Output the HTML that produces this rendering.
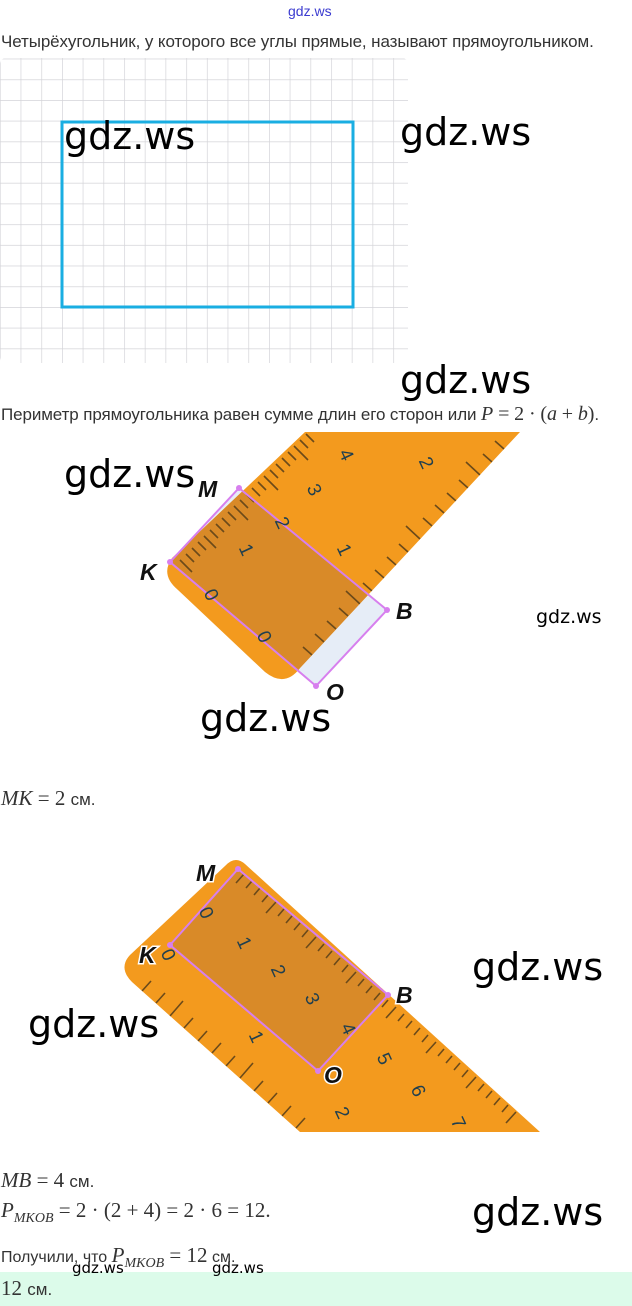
<!DOCTYPE html>
<html><head><meta charset="utf-8"><style>
body{margin:0;width:632px;height:1306px;background:#fff;position:relative;overflow:hidden;font-family:"Liberation Sans",sans-serif;}
.t{position:absolute;white-space:nowrap;color:#333;}
.w{position:absolute;font-family:"DejaVu Sans","Liberation Sans",sans-serif;color:#000;white-space:nowrap;}
.m{font-family:"Liberation Serif",serif;}
</style></head><body>
<div class="t" style="left:288px;top:3px;font-size:14px;color:#3b3bd0;">gdz.ws</div>
<div class="t" style="left:1px;top:32px;font-size:17px;letter-spacing:-0.1px;">Четырёхугольник, у которого все углы прямые, называют прямоугольником.</div>
<svg style="position:absolute;left:0;top:0" width="632" height="1306">
<defs>
<pattern id="g" x="-0.1" y="58.6" width="20.7" height="20.7" patternUnits="userSpaceOnUse">
<path d="M0 0H20.7M0 0V20.7" stroke="#d4d4d8" stroke-width="1.4" fill="none"/></pattern>
<clipPath id="r1"><path d="M172 558 L305 432 L520 432 L300 668 Q285 688 265 672 L178 590 Q160 575 172 558Z"/></clipPath>
<clipPath id="r2"><path d="M225 866 Q235 855 245 864 L540 1132 L300 1132 L132 982 Q118 968 130 955Z"/></clipPath>
</defs>
<rect x="0" y="58" width="408" height="305" rx="6" fill="url(#g)"/>
<rect x="62" y="122" width="291" height="185" fill="none" stroke="#1aaee2" stroke-width="3"/>
<!-- ruler 1 -->
<polygon points="239,488 387,610 316,686 170,562" fill="#e6edf7"/>
<path d="M172 558 L305 432 L520 432 L300 668 Q285 688 265 672 L178 590 Q160 575 172 558Z" fill="#f39a1e"/>
<g clip-path="url(#r1)">
<polygon points="239,488 387,610 316,686 170,562" fill="#d98a28"/>
<g stroke="#6b4a1a" stroke-width="1.6">
<path d="M180 560l12 12M186 554l8 8M192 548l8 8M198 542l8 8M204 536l12 12M210 530l8 8M216 524l8 8M222 518l8 8M228 512l8 8M234 506l14 14M240 500l8 8M246 494l8 8M252 488l8 8M258 482l8 8M264 476l14 14M270 470l8 8M276 464l8 8M282 458l8 8M288 452l8 8M294 446l14 14M300 440l8 8M306 434l8 8"/>
<path d="M312 655l-9 -8M324 642l-9 -8M336 629l-9 -8M348 616l-9 -8M360 604l-14 -13M372 591l-9 -8M384 578l-9 -8M396 565l-9 -8M408 552l-9 -8M420 539l-14 -13M432 526l-9 -8M444 513l-9 -8M456 501l-9 -8M468 488l-9 -8M480 475l-14 -13M492 462l-9 -8M504 449l-9 -8"/>
</g>
</g>
<polygon points="239,488 387,610 316,686 170,562" fill="none" stroke="#d77fee" stroke-width="2"/>
<g fill="#d77fee"><circle cx="239" cy="488" r="3"/><circle cx="170" cy="562" r="3"/><circle cx="387" cy="610" r="3"/><circle cx="316" cy="686" r="3"/></g>
<g font-family="Liberation Sans" font-size="19" fill="#1f3f4f">
<text x="205" y="600" transform="rotate(65 210 595)">0</text>
<text x="240" y="555" transform="rotate(65 245 550)">1</text>
<text x="276" y="528" transform="rotate(65 281 523)">2</text>
<text x="308" y="495" transform="rotate(65 313 490)">3</text>
<text x="340" y="460" transform="rotate(65 345 455)">4</text>
<text x="258" y="642" transform="rotate(65 263 637)">0</text>
<text x="338" y="555" transform="rotate(65 343 550)">1</text>
<text x="420" y="468" transform="rotate(65 425 463)">2</text>
</g>
<g font-family="Liberation Sans" font-style="italic" font-weight="bold" font-size="23" fill="#111">
<text x="198" y="497">M</text><text x="140" y="580">K</text><text x="396" y="619">B</text><text x="326" y="700">O</text></g>
<!-- ruler 2 -->
<path d="M225 866 Q235 855 245 864 L540 1132 L300 1132 L132 982 Q118 968 130 955Z" fill="#f39a1e"/>
<g clip-path="url(#r2)">
<polygon points="238,869 388,995 318,1071 170,945" fill="#d98a28"/>
<g stroke="#6b4a1a" stroke-width="1.6">
<path d="M244 874l-8 9M252 881l-6 7M260 888l-6 7M268 895l-6 7M276 902l-10 11M284 909l-6 7M292 916l-6 7M300 923l-6 7M308 930l-6 7M316 937l-10 11M324 944l-6 7M332 951l-6 7M340 958l-6 7M348 965l-6 7M356 972l-10 11M364 979l-6 7M372 986l-6 7M380 993l-6 7M388 1000l-6 7M396 1007l-10 11M404 1014l-6 7M412 1021l-6 7M420 1028l-6 7M428 1035l-6 7M436 1042l-10 11M444 1049l-6 7M452 1056l-6 7M460 1063l-6 7M468 1070l-6 7M476 1077l-10 11M484 1084l-6 7M492 1091l-6 7M500 1098l-6 7M508 1105l-6 7M516 1112l-10 11"/>
<path d="M142 991l9 -10M156 1003l9 -10M170 1016l13 -15M184 1028l9 -10M198 1041l9 -10M212 1053l9 -10M226 1066l9 -10M240 1078l13 -15M254 1091l9 -10M268 1103l9 -10M282 1116l9 -10M296 1128l9 -10"/>
</g>
</g>
<polygon points="238,869 388,995 318,1071 170,945" fill="none" stroke="#d77fee" stroke-width="2"/>
<g fill="#d77fee"><circle cx="238" cy="869" r="3"/><circle cx="170" cy="945" r="3"/><circle cx="388" cy="995" r="3"/><circle cx="318" cy="1071" r="3"/></g>
<g font-family="Liberation Sans" font-size="19" fill="#1f3f4f">
<text x="200" y="918" transform="rotate(65 205 913)">0</text>
<text x="238" y="948" transform="rotate(65 243 943)">1</text>
<text x="272" y="976" transform="rotate(65 277 971)">2</text>
<text x="306" y="1004" transform="rotate(65 311 999)">3</text>
<text x="342" y="1034" transform="rotate(65 347 1029)">4</text>
<text x="378" y="1064" transform="rotate(65 383 1059)">5</text>
<text x="412" y="1096" transform="rotate(65 417 1091)">6</text>
<text x="452" y="1128" transform="rotate(65 457 1123)">7</text>
<text x="162" y="960" transform="rotate(65 167 955)">0</text>
<text x="250" y="1042" transform="rotate(65 255 1037)">1</text>
<text x="336" y="1118" transform="rotate(65 341 1113)">2</text>
</g>
<g font-family="Liberation Sans" font-style="italic" font-weight="bold" font-size="23" fill="#111" stroke="#fff" stroke-width="3" paint-order="stroke">
<text x="196" y="881">M</text><text x="139" y="963">K</text><text x="396" y="1003">B</text><text x="324" y="1083">O</text></g>
</svg>
<div class="w" style="left:64px;top:114px;font-size:38px;">gdz.ws</div>
<div class="w" style="left:400px;top:110px;font-size:38px;">gdz.ws</div>
<div class="w" style="left:400px;top:358px;font-size:38px;">gdz.ws</div>
<div class="t" style="left:1px;top:403px;font-size:17px;letter-spacing:-0.1px;">Периметр прямоугольника равен сумме длин его сторон или <span class="m" style="font-style:italic;font-size:20px">P</span><span class="m" style="font-size:20px"> = 2 · (<i>a</i> + <i>b</i>)</span>.</div>
<div class="w" style="left:64px;top:452px;font-size:38px;">gdz.ws</div>
<div class="w" style="left:536px;top:606px;font-size:19px;">gdz.ws</div>
<div class="w" style="left:200px;top:696px;font-size:38px;">gdz.ws</div>
<div class="t m" style="left:1px;top:786px;font-size:21px;color:#333;"><i>MK</i> = 2 <span style="font-family:'Liberation Sans';font-size:17px">см.</span></div>
<div class="w" style="left:472px;top:945px;font-size:38px;">gdz.ws</div>
<div class="w" style="left:28px;top:1002px;font-size:38px;">gdz.ws</div>
<div class="t m" style="left:1px;top:1168px;font-size:21px;"><i>MB</i> = 4 <span style="font-family:'Liberation Sans';font-size:17px">см.</span></div>
<div class="t m" style="left:1px;top:1198px;font-size:21px;"><i>P</i><sub style="font-size:14px"><i>MKOB</i></sub> = 2 · (2 + 4) = 2 · 6 = 12.</div>
<div class="w" style="left:472px;top:1190px;font-size:38px;">gdz.ws</div>
<div class="t" style="left:1px;top:1243px;font-size:16px;">Получили, что <span class="m" style="font-size:21px"><i>P</i><sub style="font-size:14px"><i>MKOB</i></sub> = 12</span> см.</div>
<div style="position:absolute;left:0;top:1272px;width:632px;height:34px;background:#dcfbea;"></div>
<div class="w" style="left:72px;top:1259px;font-size:15px;">gdz.ws</div>
<div class="w" style="left:212px;top:1259px;font-size:15px;">gdz.ws</div>
<div class="t m" style="left:1px;top:1276px;font-size:21px;">12 <span style="font-family:'Liberation Sans';font-size:17px">см.</span></div>
</body></html>
